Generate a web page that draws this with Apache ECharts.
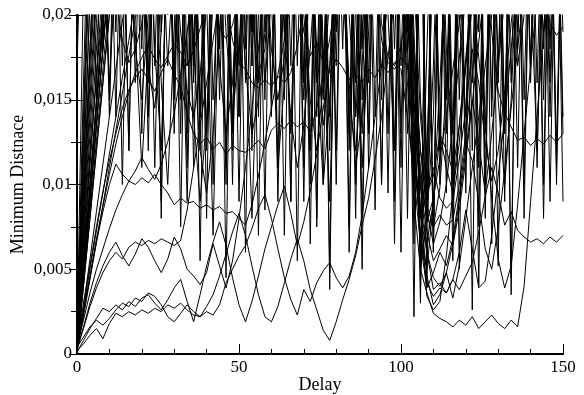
<!DOCTYPE html>
<html><head><meta charset="utf-8">
<script src="https://cdn.jsdelivr.net/npm/echarts@6/dist/echarts.min.js"></script>
<style>html,body{margin:0;padding:0;background:#fff}#c{width:584px;height:395px}</style>
</head><body><div id="c"></div>
<script>
// x positions (Delay)
const delays = [0,2,4,6,8,10,12,14,16,18,20,22,24,26,28,30,32,34,36,38,40,42,44,46,48,50,52,54,56,58,60,62,64,66,68,70,72,74,76,78,80,82,84,86,88,90,92,94,96,98,100,102,104,106,108,110,112,114,116,118,120,122,124,126,128,130,132,134,136,138,140,142,144,146,148,150];
const xTicks = [0, 50, 100, 150];
const yTicks = ['0', '0,005', '0,01', '0,015', '0,02'];
// Minimum distance values, in units of 0.001 (values above 20 leave the plot)
const L1 = [0.2,0.6,1.1,1.5,0.9,1.8,2.4,2.2,2.5,2.3, 2.6,2.4,2.7,2.5,2.9,2.7,3.0,2.6,2.3,2.2, 2.5,2.3,2.9,4.2,5.0,5.8,6.4,7.4,8.6,9.4, 8.0,6.2,4.5,3.2,2.3,3.8,3.1,4.2,4.9,5.4, 4.5,3.9,4.6,6.0,8.2,11,14,17,21,24, 22,16,9,5.0,3.6,2.4,2.1,1.9,1.6,2.0, 1.7,2.2,1.5,1.9,2.3,1.8,1.5,2.0,1.6,4.0, 9.0,14,19,24,28,30];
const L2 = [0.4,1.0,1.6,2.0,1.7,2.1,2.6,3.0,2.8,3.3, 3.1,3.6,3.4,2.9,2.2,1.9,2.4,2.9,2.5,2.2, 2.8,3.5,4.6,5.9,7.2,8.3,7.0,5.2,3.5,2.2, 1.9,2.8,4.2,5.6,6.8,5.5,3.8,2.6,1.4,0.8, 1.9,3.2,4.4,5.8,7.6,9.2,11.5,14,17.5,21, 25,20,13,7.0,4.2,3.4,3.9,3.6,4.4,6.0, 8.5,6.2,3.9,4.3,7.0,10.5,14,18,22,26, 28,30,30,30,30,30];
const L3 = [0.1,0.8,1.5,2.1,2.7,2.5,2.9,2.6,3.1,2.8, 3.3,3.5,3.0,2.6,3.2,3.9,4.4,3.1,1.9,3.5, 5.2,6.6,7.8,6.4,4.5,2.9,1.9,3.1,4.6,6.2, 7.5,8.8,9.9,8.3,6.4,7.8,9.6,11.8,14.5,17, 20,23,25,27,30,30,30,30,30,30, 30,24,15,8.5,4.6,2.9,3.5,4.8,3.3,5.2, 8.0,11,14,17,20,23,26,28,30,30, 30,30,30,30,30,30];
const M1 = [0.3,1.5,2.8,3.9,4.8,5.5,6.0,5.6,6.3,6.6, 6.4,6.7,6.5,6.8,6.6,6.4,6.7,8.5,11,13.5, 16,18.5,21,24,26,22,17,13,15,19, 23,26,28,30,30,30,25,17,10,15, 22,28,30,30,30,30,30,30,30,30, 26,18,11,8.2,6.0,4.5,4.0,4.8,6.5,9, 12,15,12.5,9.5,13,17,21,25,28,30, 30,30,30,30,30,30];
const M2 = [0.5,2.0,3.6,5.0,6.2,7.4,8.5,9.4,10.2,10.0, 10.4,10.1,10.6,10.0,9.5,8.8,9.2,8.9,9.0,8.6, 8.8,8.5,8.7,8.3,8.4,8.0,7.6,8.8,10.5,12.5, 14.5,16.5,18.5,21,24,20,15,12,16,21, 26,30,30,30,30,30,30,30,30,30, 30,25,16,10.5,8.0,7.5,8.2,7.6,7.9,10, 13,16.5,20,24,28,30,30,30,30,30, 30,30,30,30,30,30];
const M3 = [0.6,3.0,5.2,7.5,9.6,11.4,13,14.5,15.6,16.3, 16.8,16.2,15.5,16.6,17.4,16.5,15.8,14.2,13.0,12.4, 12.8,12.1,12.5,11.8,12.3,12.0,11.9,12.2,12.6,12.1, 13.2,13.6,13.3,13.8,13.4,13.7,13.1,14.5,16.5,18.6, 21,24,26,28,30,30,30,30,30,30, 28,21,14,9.8,7.2,5.5,6.2,7.0,6.4,8.5, 11.5,14.8,18.4,22,26,30,30,30,30,30, 30,30,30,30,30,30];
const M4 = [0.3,2.4,4.6,6.8,8.7,10.6,12.4,14,15.4,16.6, 17.5,18.2,17.4,16.9,17.6,18.3,17.8,17.0,17.9,19.2, 20.5,22,24,21,18.5,17.2,16.8,16.0,15.7,16.2, 15.8,16.4,16.0,16.6,18.2,20.5,23,26,28,30, 30,27,20,14,19,25,30,30,30,30, 30,30,22,14,9.5,10.5,13,12,10.8,13.5, 17,20.5,24,27,30,30,30,30,30,30, 30,30,30,30,30,30];
const M5 = [0.2,2.2,4.4,6.6,8.8,11,13.2,15.4,17.6,19.8, 22,25,28,30,30,30,30,28,30,30, 30,30,26,19,14,18,24,30,30,30, 30,30,30,28,22,19,17.6,18.4,17.2,16.6, 17.4,16.9,16.2,16.5,16.0,16.8,16.3,17.1,16.6,17.2, 16.8,14,10.5,6.5,3.9,4.8,6.0,5.2,6.8,9.4, 12.5,11.4,9.0,6.2,5.0,7.5,10.8,14.5,18,21.5, 25,28,30,30,30,30];
const M6 = [0.4,2.6,5.0,7.3,9.5,11.8,14,16.3,18.5,21, 24,27,30,26,17,24,30,30,30,22, 13,21,30,30,30,30,27,19,25,30, 30,30,30,30,24,15,23,30,30,30, 30,30,28,20,11,19,27,30,30,30, 30,30,19,10,6.0,3.8,4.2,3.6,4.4,3.8, 4.6,5.4,7.2,9.3,11,9.5,7.6,8.4,7.3,6.9, 6.6,6.8,6.5,6.9,6.6,7.0];
const M7 = [0.1,2.8,5.6,8.4,11.2,14,16.8,19.6,22.4,25, 28,30,30,30,30,30,30,26,18,12, 9.5,13,19,26,30,30,30,30,23,16, 21,28,30,30,30,30,30,24,17,22, 28,30,30,30,30,30,24,18.5,17.2,16.8, 17.5,17.0,15,11,7.8,9.2,11.5,14,16.8,19.5, 22,25,28,25,19,15.5,14.2,13.4,12.6,12.8, 12.3,12.7,12.4,12.9,12.5,13.0];
const M8 = [0.5,2.5,4.5,6.6,8.4,10.0,11.2,10.6,10.2,10.8, 11.6,10.9,10.3,11.2,12.5,14.2,16.5,19,22,25, 28,30,30,30,30,30,30,30,30,30, 30,26,19,14,11,13.5,18,24,30,30, 30,30,30,30,30,30,30,30,30,30, 30,26,18,12,9.5,11,9.2,8.6,9.0,11.5, 14.5,18,16,12.5,10.2,12,15.5,19.5,23,27, 30,30,30,30,30,30];
const M9 = [0.3,1.6,3.0,4.2,5.2,6.0,6.6,5.8,5.2,5.9, 6.8,6.3,5.5,4.8,5.6,6.9,6.2,5.0,4.6,4.1, 4.8,6.5,5.2,3.9,5.5,8.0,11,14.5,18,22, 26,30,30,30,30,30,30,30,30,30, 30,30,30,30,30,30,30,30,30,30, 30,30,17,8.5,3.4,2.6,3.1,5.8,9.5,13.5, 17.5,21,17.5,13.5,9.2,5.6,3.9,5.2,8.8,13, 17,21,25,29,30,30];
const H1 = [0.5,22,28,30,30,14,28,30,26,30, 30,28,11,27,30,30,24,9,26,30, 30,30,15,29,30,30,30,12,30,30, 28,30,30,17,30,30,30,30,10,30, 30,30,30,16,30,30,30,30,30,12, 30,30,9,30,30,30,30,13,30,30, 30,30,30,30,15,30,30,30,30,8, 30,30,30,18,30,30];
const H2 = [0.2,8,16,24,30,30,19,30,30,30, 13,29,30,30,30,16,30,30,30,30, 21,7,23,30,30,30,30,30,14,30, 30,30,30,30,30,11,30,30,30,30, 19,30,30,30,8,26,30,30,30,30, 30,30,30,4.5,18,30,30,30,10,30, 30,30,30,30,30,30,13,30,30,30, 30,16,30,30,30,9];
const H3 = [17,30,30,30,18,30,30,30,30,30, 30,30,30,19,30,30,30,30,30,14, 30,30,30,30,30,30,18,30,30,30, 30,9,27,30,30,30,30,30,30,30, 30,30,13,30,30,30,30,20,30,30, 30,30,30,30,8,30,30,30,30,30, 12,30,30,30,30,30,30,16,30,30, 30,30,30,30,11,30];
const H4 = [0.6,6.5,13,19.5,26,30,30,30,12,30, 30,30,30,30,30,30,30,13,30,30, 30,30,30,30,10,30,30,30,30,30, 15,30,30,30,30,30,30,30,30,30, 30,30,30,30,30,30,30,10,30,30, 30,30,30,30,30,6,30,30,30,30, 30,30,30,8,30,30,30,30,30,30, 30,30,30,30,30,14];
const H5 = [0.3,5.0,10,15,20.5,26,30,30,30,30, 30,30,30,30,30,30,15,30,30,30, 30,30,30,24,30,30,30,30,30,8.5, 30,30,30,30,30,30,30,14,30,30, 30,30,7.5,30,30,30,30,30,30,30, 17,30,30,30,30,30,30,30,5.5,30, 30,30,30,30,30,30,30,30,30,30, 17,30,30,30,30,30];
const H6 = [0.1,4.0,8.0,12,16,20,24,28,30,30, 30,30,30,30,21,30,30,30,30,30, 30,30,30,11,30,30,30,30,30,30, 30,30,30,30,30,30,6.5,30,30,30, 30,30,30,30,30,13,30,30,30,30, 30,30,30,30,30,30,30,30,30,30, 30,30,4.0,30,30,30,30,30,30,30, 30,30,10,30,30,30];
const H7 = [0.4,4.5,9,13.5,18,22.5,27,30,30,30, 30,30,30,30,30,30,30,30,18,30, 30,30,30,30,30,14,30,30,30,30, 30,30,30,30,30,30,30,30,30,4.8, 30,30,30,30,30,30,30,30,9.5,30, 30,19,30,30,30,30,30,30,30,30, 30,30,30,30,30,5.2,30,30,30,30, 30,30,30,30,30,30];
const H8 = [0.2,4.5,9,13.5,18,22.5,27,30,30,30, 30,30,30,30,30,30,30,17,30,30, 30,30,30,30,30,30,30,30,30,30, 30,30,30,9,30,30,30,30,30,30, 12,30,30,30,30,30,30,30,30,30, 30,30,30,30,30,30,30,9.5,30,30, 30,30,30,30,30,30,30,30,30,30, 30,30,30,30,30,30];
const H9 = [0.5,11,21,30,30,30,30,30,30,16, 30,30,30,30,20,30,30,30,30,30, 30,30,30,30,30,30,6,30,30,30, 30,30,30,30,30,30,30,30,30,3.8, 30,30,30,30,30,30,14,30,30,30, 30,30,30,3.0,30,30,30,30,30,30, 30,30,30,30,30,30,30,30,11,30, 30,30,30,30,30,30];
const H10 = [0.3,7.5,15,22,30,30,30,30,30,30, 24,17,14.5,19,26,30,30,30,30,30, 30,30,30,30,30,30,30,20,16.5,18, 24,30,30,30,30,30,30,30,30,30, 30,22,15,12,17,25,30,30,30,30, 30,30,30,15,8.8,7.5,9.8,16,25,30, 30,30,30,30,30,30,30,30,30,30, 30,24,19,21,28,30];
const H11 = [0.7,4.8,9.2,13.6,18,22.5,27,30,30,30, 30,30,30,8,30,30,30,30,30,30, 30,10,30,30,30,30,30,30,30,30, 30,30,30,30,5.5,30,30,30,30,30, 30,30,12,30,30,30,30,30,30,30, 30,8,30,30,30,30,30,30,30,30, 30,2.6,30,30,30,30,14,30,30,30, 30,30,30,30,12,30];
const H12 = [0.1,4,8,12,16,20,24,28,30,30, 30,30,30,30,30,30,30,30,11,30, 30,30,30,30,30,17,30,30,30,30, 30,30,7,30,30,30,30,30,30,30, 30,30,30,30,30,30,30,30,30,6.5, 30,30,30,30,30,30,12,30,30,30, 30,30,30,30,30,30,30,3.5,30,30, 30,30,30,30,30,30];
const H13 = [0.4,14,27,30,30,30,30,10,30,30, 30,30,30,30,30,30,7.5,30,30,30, 30,30,30,30,13,30,30,30,30,30, 30,11,30,30,30,30,30,16,30,30, 30,30,30,30,5,30,30,30,30,30, 30,30,2.2,30,30,30,30,30,30,15, 30,30,30,30,6.5,30,30,30,30,30, 30,30,30,16,30,30];
const H14 = [0.8,9.5,18,26,30,15,30,30,30,30, 30,12,30,30,30,30,30,30,30,5.5, 30,30,30,30,30,30,30,19,30,30, 30,30,30,30,30,9,30,30,30,30, 17,30,30,30,30,30,30,10,30,30, 30,30,30,30,4,30,30,30,30,30, 9.5,30,30,30,30,30,30,30,30,10, 30,30,30,30,30,19];
const H15 = [0.2,4.8,9.6,14.4,19.2,24,29,30,30,30, 30,30,30,30,30,13,30,30,30,30, 30,30,30,4.5,30,30,30,30,30,15, 30,30,30,30,30,30,12,30,30,30, 30,30,30,8,30,30,30,30,30,18, 30,30,30,30,30,6,30,30,30,30, 30,30,11,30,30,30,30,4.5,30,30, 30,30,15,30,30,30];
const H16 = [0.6,6,11.5,16.5,20.5,24,21,18.5,17.2,18.0, 19.5,22,26,30,30,30,30,30,30,30, 26,21,19.2,18.6,19.4,21,25,30,30,30, 30,30,30,30,30,30,30,30,30,30, 30,30,30,30,30,30,25,19.5,17.5,17.0, 18.2,20.5,17,12,8.5,6.5,7.8,10,13.5,17.5, 21,24,27,30,30,30,30,30,30,30, 30,27,22,19.5,18.8,19.3];
const H17 = [0.3,10,21,30,24,16,23,30,30,19, 11,18,30,30,25,17,26,30,30,14, 21,30,30,22,12,24,30,30,16,30, 30,30,21,13,26,30,30,30,18,9, 22,30,30,30,15,27,30,30,20,12, 25,30,14,6,12,24,30,18,11,22, 30,30,19,30,30,22,13,25,30,30, 16,30,30,24,30,30];
const H18 = [0.5,7,14,21,28,30,30,17,30,30, 22,30,30,16,10,19,30,30,23,30, 30,15,24,30,30,30,19,8,20,30, 30,24,30,30,30,16,30,30,23,14, 30,30,30,10,21,30,30,30,25,30, 13,30,30,30,9,17,30,30,30,20, 14,27,30,30,30,17,30,30,30,30, 22,12,24,30,30,30];
const H19 = [0.2,12,24,30,30,30,22,30,30,30, 30,30,18,12,25,30,30,30,17,30, 30,30,26,30,30,14,30,30,30,30, 21,11,16,30,30,30,30,30,16,30, 30,30,23,30,30,11,30,30,30,30, 30,18,30,5,8,14,30,30,13,30, 30,30,30,10,30,30,30,21,30,30, 30,30,18,30,30,24];
const H20 = [0.4,5.5,11,16.5,22,28,30,30,30,30, 30,16,30,30,30,30,22,30,30,30, 12,30,30,30,30,30,30,17,30,30, 30,30,19,30,30,30,30,7.5,30,30, 30,30,30,30,18,30,30,30,30,30, 30,30,10,30,30,30,12,30,30,30, 30,16,30,30,30,30,30,30,19,30, 30,30,30,14,30,30];
const H21 = [0.6,8.5,17,25,30,30,30,30,24,18, 15,20,27,30,30,30,30,30,30,30, 30,25,17,13,16,23,30,30,30,30, 30,30,30,30,30,30,26,18,13.5,17, 25,30,30,30,30,30,30,30,30,30, 30,20,12,7,5,9,16,24,30,30, 30,30,30,30,30,30,30,24,17,20, 28,30,30,30,30,30];
const H22 = [0.1,6,12,18,24,30,30,30,30,30, 30,30,30,30,30,30,30,22,14,9, 14,22,30,30,30,30,30,30,30,30, 30,30,30,30,30,30,30,30,30,30, 30,24,16,11,14,21,30,30,30,30, 30,30,30,30,30,30,30,30,30,30, 30,30,30,30,22,15,10,15,24,30, 30,30,30,30,30,30];
const H23 = [0.3,13,26,30,30,30,14,30,30,30, 30,30,30,9,30,30,30,30,16,30, 30,30,18,30,30,30,30,30,7,30, 30,30,30,30,17,30,30,30,30,12, 30,30,30,30,30,16,30,30,30,30, 11,30,6.5,30,30,30,30,15,30,30, 30,30,30,13,30,30,30,30,18,30, 30,30,30,30,10,30];
const H24 = [0.7,5,10,15,20,26,30,30,30,30, 30,30,17,30,30,30,30,11,30,30, 30,30,30,30,13,30,30,30,30,19, 30,30,30,9,30,30,30,30,15,30, 30,30,6,30,30,30,30,30,13,30, 30,30,30,3.5,30,30,30,30,8,30, 30,30,30,30,30,16,30,30,30,30, 30,11,30,30,30,30];
const H25 = [0.2,9,18,27,30,30,30,30,12,30, 30,30,30,30,30,15,30,30,30,30, 8,30,30,30,30,30,16,30,30,30, 14,30,30,30,30,30,10,30,30,30, 30,18,30,30,30,30,8.5,30,30,30, 30,13,30,30,30,7,30,30,30,30, 30,12,30,30,30,30,9,30,30,30, 17,30,30,30,30,13];
const H26 = [0.5,16,30,15,30,30,30,30,30,30, 18,30,30,30,30,30,13,30,30,30, 30,30,30,10,30,30,30,17,30,30, 30,30,15,30,30,30,30,8,30,30, 30,30,30,14,30,30,30,30,30,9, 30,30,30,30,10,30,30,30,30,5, 30,30,30,30,14,30,30,30,30,30, 30,30,8,30,30,30];
const H27 = [0.3,4.2,8.4,12.6,16.8,21,25,30,30,30, 30,30,30,30,30,24,19,15.5,14,16.5, 21,27,30,30,30,30,30,30,30,24, 18,15,17.5,23,30,30,30,30,30,30, 30,30,30,22,13,21,30,30,30,30, 24,17,12,8.5,6.5,9,13,11,9.5,12.5, 17,23,30,30,30,30,30,30,30,30, 30,30,30,30,30,30];
const H28 = [0.4,5,9.8,14.6,19.5,24.5,30,30,30,30, 30,14,30,30,30,30,30,30,30,12, 30,30,30,30,30,9,30,30,30,30, 30,30,30,30,30,16,30,30,30,30, 10,30,30,30,30,30,30,15,30,30, 6,30,30,30,30,30,10,30,30,30, 30,30,7.5,30,30,30,30,30,30,15, 30,30,30,9,30,30];

const allSeries = [L1,L2,L3,M1,M2,M3,M4,M5,M6,M7,M8,M9,H1,H2,H3,H4,H5,H6,H7,H8,H9,H10,H11,H12,H13,H14,H15,H16,H17,H18,H19,H20,H21,H22,H23,H24,H25,H26,H27,H28];

const font = 'Liberation Serif';
const chart = echarts.init(document.getElementById('c'), null, {renderer: 'canvas'});
const axisLine = {show: true, lineStyle: {color: '#000', width: 2}};
chart.setOption({
  animation: false,
  backgroundColor: '#fff',
  grid: {left: 77, right: 21, top: 15, bottom: 41, containLabel: false, outerBoundsMode: 'none'},
  xAxis: [{
    type: 'value', min: 0, max: 150, interval: 50, position: 'bottom',
    name: 'Delay', nameLocation: 'middle', nameGap: 22, nameMoveOverlap: false,
    nameTextStyle: {fontFamily: font, fontSize: 18, color: '#000'},
    axisLine: axisLine,
    axisTick: {show: true, inside: true, length: 10, lineStyle: {color: '#000', width: 1}},
    minorTick: {show: true, splitNumber: 5, length: 5, lineStyle: {color: '#000', width: 1}},
    axisLabel: {fontFamily: font, fontSize: 17, color: '#000', margin: 5,
      formatter: v => String(xTicks[xTicks.indexOf(v)])},
    splitLine: {show: false}
  }, {
    type: 'value', min: 0, max: 150, position: 'top',
    axisLine: axisLine, axisTick: {show: false}, axisLabel: {show: false}, splitLine: {show: false}
  }],
  yAxis: [{
    type: 'value', min: 0, max: 20, interval: 5, position: 'left',
    name: 'Minimum Distnace', nameLocation: 'middle', nameGap: 50, nameMoveOverlap: false,
    nameTextStyle: {fontFamily: font, fontSize: 18, color: '#000'},
    axisLine: axisLine,
    axisTick: {show: true, inside: true, length: 8, lineStyle: {color: '#000', width: 1}},
    minorTick: {show: true, splitNumber: 2, length: 5, lineStyle: {color: '#000', width: 1}},
    axisLabel: {fontFamily: font, fontSize: 17, color: '#000', margin: 5,
      formatter: v => yTicks[Math.round(v / 5)]},
    splitLine: {show: false}
  }, {
    type: 'value', min: 0, max: 20, interval: 5, position: 'right',
    axisLine: axisLine,
    axisTick: {show: true, inside: true, length: 8, lineStyle: {color: '#000', width: 1}},
    minorTick: {show: true, splitNumber: 2, length: 6, lineStyle: {color: '#000', width: 1}},
    axisLabel: {show: false}, splitLine: {show: false}
  }],
  series: allSeries.map(vals => ({
    type: 'line', xAxisIndex: 0, yAxisIndex: 0,
    data: vals.map((v, i) => [delays[i], v]),
    showSymbol: false, symbol: 'none', clip: true, silent: true,
    lineStyle: {color: '#000', width: 1}
  }))
});
</script></body></html>
